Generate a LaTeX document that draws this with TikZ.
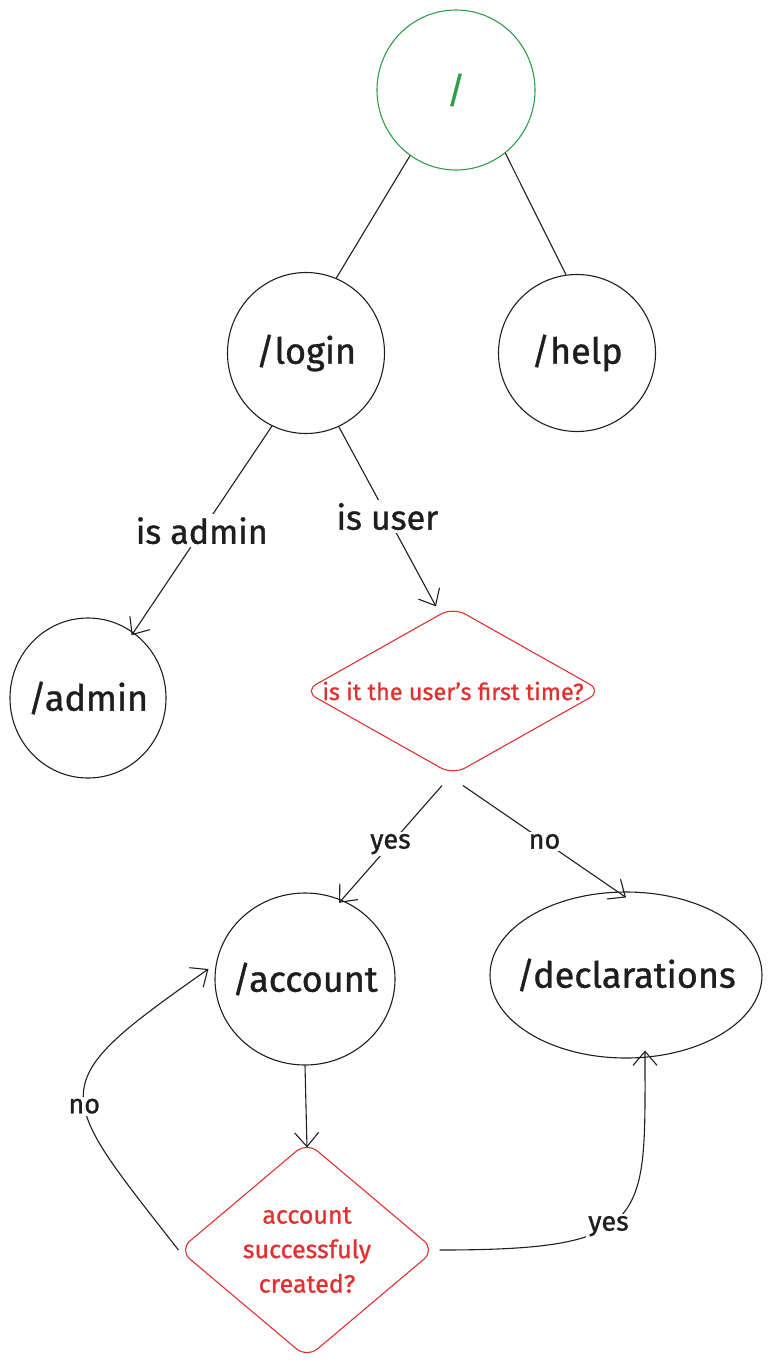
\documentclass[tikz,border=0pt]{standalone}
\usepackage{fontspec}
\setmainfont{Fira Sans}[FakeBold=1]
\usetikzlibrary{arrows.meta,shapes.geometric}
\definecolor{gr}{HTML}{2F9E44}
\definecolor{rd}{HTML}{E03131}
\definecolor{ink}{HTML}{1E1E1E}
\tikzset{
  circ/.style={draw=ink, ellipse, line width=1.1pt, inner sep=0pt,
    label={[text=ink, font=\fontsize{36}{40}\selectfont]center:#1}},
  dia/.style={draw=rd, diamond, line width=1.1pt, inner sep=0pt, rounded corners=14pt},
  elab/.style={fill=white, text=ink, inner sep=3pt, font=\fontsize{34}{38}\selectfont},
  slab/.style={fill=white, text=ink, inner sep=2pt, font=\fontsize{27}{30}\selectfont},
  edge/.style={draw=ink, line width=1.1pt},
  arr/.style={edge, -{Straight Barb[length=14pt,width=24pt,line width=1.1pt]}},
}
\begin{document}
\begin{tikzpicture}[x=1pt,y=-1pt]
\useasboundingbox (0,0) rectangle (771,1371);
\node[draw=gr, ellipse, line width=1.1pt, inner sep=0pt, minimum width=158pt, minimum height=160pt,
  label={[text=gr, font=\fontsize{36}{40}\selectfont]center:/}] (root) at (456,90) {};
\node[circ=/login, minimum width=157pt, minimum height=161pt] (login) at (306,353) {};
\node[circ=/help, minimum width=157pt, minimum height=157pt] (help) at (577,353) {};
\node[circ=/admin, minimum width=156pt, minimum height=160pt] (admin) at (88,698) {};
\node[dia, minimum width=298pt, minimum height=168pt,
  label={[text=rd, font=\fontsize{23.5}{26}\selectfont]center:is it the user's first time?}] (first) at (453,691) {};
\node[circ=/account, minimum width=180pt, minimum height=172pt] (acc) at (305,979) {};
\node[circ=/declarations, minimum width=272pt, minimum height=166pt] (decl) at (626,975) {};
\node[dia, minimum width=256pt, minimum height=216pt,
  label={[text=rd, align=center, font=\fontsize{25}{34.5}\selectfont]center:account\\successfuly\\created?}] (created) at (307,1250) {};

\draw[edge] (root.-125) -- (login.68);
\draw[edge] (root.-52) -- (help.98);
\draw[arr] (login.-115) -- node[elab]{is admin} ([xshift=6pt,yshift=-8pt]admin.62);
\draw[arr] (login.-66) -- node[elab]{is user} ([xshift=-17pt]first.north);
\draw[arr] ([xshift=-11pt,yshift=-10pt]first.south) -- node[slab]{yes} ([yshift=-4pt]acc.67);
\draw[arr] ([xshift=10pt,yshift=-10pt]first.south) -- node[slab]{no} ([yshift=-6pt]decl.north);
\draw[arr] (acc.south) -- ([yshift=-6pt]created.north);
\draw[arr] (created.west) to[out=128, in=215, looseness=1.85] node[slab, pos=0.44]{no} ([xshift=-6pt,yshift=10pt]acc.west);
\draw[arr] ([xshift=4pt]created.east) .. controls +(214,0) and +(0,170) .. node[slab, pos=0.42]{yes} ([xshift=19pt,yshift=8pt]decl.south);
\end{tikzpicture}
\end{document}
